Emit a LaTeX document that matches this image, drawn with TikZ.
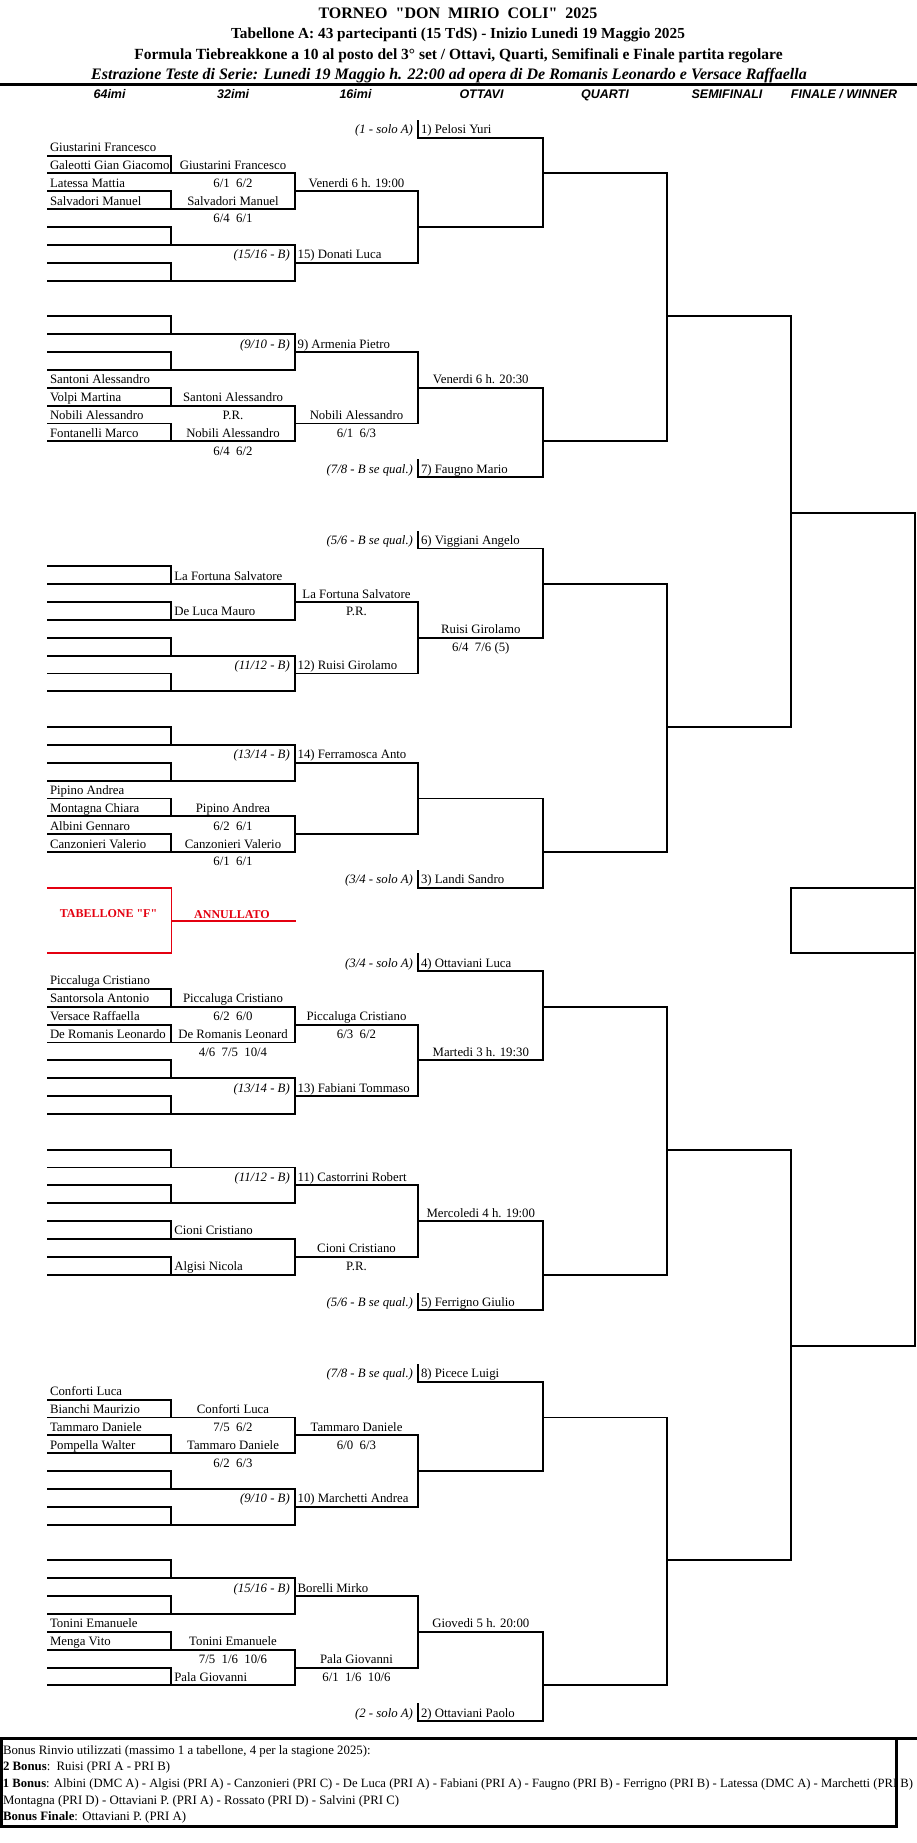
\documentclass[tikz,border=0pt]{standalone}
\usepackage{fontspec}
\setmainfont{Liberation Serif}[Ligatures=TeXOff]
\newfontfamily\hsans{Liberation Sans}
\definecolor{annred}{RGB}{228,0,16}
\pgfmathdeclarefunction{ya}{1}{\pgfmathparse{137.7+17.86*(#1)}}
\pgfmathdeclarefunction{yb}{1}{\pgfmathparse{971+17.86*(#1)}}
\newcounter{bkn}
\newcommand\bknew{\stepcounter{bkn}}
\tikzset{
  br/.style={line width=1.9pt, line cap=rect, line join=miter},
  rline/.style={line width=1.6pt, draw=annred, line cap=rect, line join=miter},
  hrule/.style={line width=2.7pt, line cap=rect, line join=miter},
  txt/.style={inner sep=0pt, outer sep=0pt, font=\fontsize{12.8}{14}\selectfont},
  itxt/.style={inner sep=0pt, outer sep=0pt, font=\fontsize{12.8}{14}\selectfont\itshape},
  hdr/.style={inner sep=0pt, outer sep=0pt, anchor=base, font=\fontsize{12.5}{14}\selectfont\hsans\bfseries\itshape},
  ttl/.style={inner sep=0pt, outer sep=0pt, anchor=base},
  bon/.style={inner sep=0pt, outer sep=0pt, anchor=base west, font=\fontsize{12.8}{14}\selectfont},
  redtxt/.style={inner sep=0pt, outer sep=0pt, anchor=base, text=annred, font=\fontsize{12}{14}\selectfont\bfseries},
}
% text helpers (fn, row, text)
\newcommand\bkA[3]{\bknew\node[txt,anchor=base west] (t\arabic{bkn}) at (50,{#1(#2)-4}) {#3};}
\newcommand\bkB[3]{\bknew\node[txt,anchor=base] (t\arabic{bkn}) at (233,{#1(#2)-4}) {#3};}
\newcommand\bkBl[3]{\bknew\node[txt,anchor=base west] (t\arabic{bkn}) at (174.3,{#1(#2)-4}) {#3};}
\newcommand\bkC[3]{\bknew\node[txt,anchor=base] (t\arabic{bkn}) at (356.5,{#1(#2)-4}) {#3};}
\newcommand\bkD[3]{\bknew\node[txt,anchor=base] (t\arabic{bkn}) at (480.8,{#1(#2)-4}) {#3};}
\newcommand\bkSc[4]{\bknew\node[itxt,anchor=base east] (t\arabic{bkn}) at (289.8,{#1(#2)-4}) {#3};
  \bknew\node[txt,anchor=base west] (t\arabic{bkn}) at (297.6,{#1(#2)-4}) {#4};}
\newcommand\bkSd[4]{\draw[br] (418.3,{#1(#2-1)+1}) -- (418.3,{#1(#2)}) -- (543.3,{#1(#2)});
  \bknew\node[itxt,anchor=base east] (t\arabic{bkn}) at (413,{#1(#2)-4}) {#3};
  \bknew\node[txt,anchor=base west] (t\arabic{bkn}) at (421,{#1(#2)-4}) {#4};}
% line groups
\newcommand\bkgrp[2]{%
  \foreach \i in {0,2,4,6}{%
    \draw[br] (48,{#1(#2+\i)}) -- (171.3,{#1(#2+\i)}) -- (171.3,{#1(#2+\i+1)});
    \draw[br] (48,{#1(#2+\i+1)}) -- (294.8,{#1(#2+\i+1)});
  }
  \draw[br] (294.8,{#1(#2+1)}) -- (294.8,{#1(#2+3)});
  \draw[br] (294.8,{#1(#2+5)}) -- (294.8,{#1(#2+7)});
  \draw[br] (294.8,{#1(#2+2)}) -- (418.3,{#1(#2+2)}) -- (418.3,{#1(#2+6)}) -- (294.8,{#1(#2+6)});
  \draw[br] (418.3,{#1(#2+4)}) -- (543.3,{#1(#2+4)});
}
\newcommand\bkoct[4]{\draw[br] (543.3,{#1(#2)}) -- (543.3,{#1(#3)}); \draw[br] (543.3,{#1(#4)}) -- (666.8,{#1(#4)});}
\newcommand\bkqf[4]{\draw[br] (666.8,{#1(#2)}) -- (666.8,{#1(#3)}); \draw[br] (666.8,{#1(#4)}) -- (791,{#1(#4)});}
\newcommand\bksf[4]{\draw[br] (791,{#1(#2)}) -- (791,{#1(#3)}); \draw[br] (791,{#1(#4)}) -- (915,{#1(#4)});}

\begin{document}
\begin{tikzpicture}[x=1pt,y=-1pt]
\useasboundingbox (0,0) rectangle (916,1843);
\fill[white] (0,0) rectangle (916,1843);
% titles
\node[ttl,font=\fontsize{16}{18}\selectfont\bfseries] (title) at (458,18.3) {TORNEO~~"DON~~MIRIO~~COLI"~~2025};
\node[ttl,font=\fontsize{15.3}{18}\selectfont\bfseries] (sub1) at (458,38.3) {Tabellone A: 43 partecipanti (15 TdS) - Inizio Lunedi 19 Maggio 2025};
\node[ttl,font=\fontsize{15.5}{18}\selectfont\bfseries] (sub2) at (458.5,60) {Formula Tiebreakkone a 10 al posto del 3° set / Ottavi, Quarti, Semifinali e Finale partita regolare};
\node[ttl,font=\fontsize{16}{18}\selectfont\bfseries\itshape] (sub3) at (449,80) {Estrazione Teste di Serie: Lunedi 19 Maggio h. 22:00 ad opera di De Romanis Leonardo e Versace Raffaella};
\draw[hrule] (0,84.8) -- (916,84.8);
% column headers
\node[hdr] (h1) at (109.6,99) {64imi};
\node[hdr] (h2) at (233.2,99) {32imi};
\node[hdr] (h3) at (355.5,99) {16imi};
\node[hdr] (h4) at (481.5,99) {OTTAVI};
\node[hdr] (h5) at (605,99) {QUARTI};
\node[hdr] (h6) at (727,99) {SEMIFINALI};
\node[hdr] (h7) at (844,99) {FINALE / WINNER};

% ===== Section A =====
% block 1
\bkSd{ya}{0}{(1 - solo A)}{1) Pelosi Yuri}
\bkgrp{ya}{1}
\bkoct{ya}{0}{5}{2}
\bkA{ya}{1}{Giustarini Francesco}
\bkA{ya}{2}{Galeotti Gian Giacomo}
\bkB{ya}{2}{Giustarini Francesco}
\bkA{ya}{3}{Latessa Mattia}
\bkB{ya}{3}{6/1~~6/2}
\bkC{ya}{3}{Venerdi 6 h. 19:00}
\bkA{ya}{4}{Salvadori Manuel}
\bkB{ya}{4}{Salvadori Manuel}
\bkB{ya}{5}{6/4~~6/1}
\bkSc{ya}{7}{(15/16 - B)}{15) Donati Luca}
% block 2
\bkgrp{ya}{10}
\bkSd{ya}{19}{(7/8 - B se qual.)}{7) Faugno Mario}
\bkoct{ya}{14}{19}{17}
\bkSc{ya}{12}{(9/10 - B)}{9) Armenia Pietro}
\bkA{ya}{14}{Santoni Alessandro}
\bkD{ya}{14}{Venerdi 6 h. 20:30}
\bkA{ya}{15}{Volpi Martina}
\bkB{ya}{15}{Santoni Alessandro}
\bkA{ya}{16}{Nobili Alessandro}
\bkB{ya}{16}{P.R.}
\bkC{ya}{16}{Nobili Alessandro}
\bkA{ya}{17}{Fontanelli Marco}
\bkB{ya}{17}{Nobili Alessandro}
\bkC{ya}{17}{6/1~~6/3}
\bkB{ya}{18}{6/4~~6/2}
% block 3
\bkSd{ya}{23}{(5/6 - B se qual.)}{6) Viggiani Angelo}
\bkgrp{ya}{24}
\bkoct{ya}{23}{28}{25}
\bkBl{ya}{25}{La Fortuna Salvatore}
\bkC{ya}{26}{La Fortuna Salvatore}
\bkBl{ya}{27}{De Luca Mauro}
\bkC{ya}{27}{P.R.}
\bkD{ya}{28}{Ruisi Girolamo}
\bkD{ya}{29}{6/4~~7/6 (5)}
\bkSc{ya}{30}{(11/12 - B)}{12) Ruisi Girolamo}
% block 4
\bkgrp{ya}{33}
\bkSd{ya}{42}{(3/4 - solo A)}{3) Landi Sandro}
\bkoct{ya}{37}{42}{40}
\bkSc{ya}{35}{(13/14 - B)}{14) Ferramosca Anto}
\bkA{ya}{37}{Pipino Andrea}
\bkA{ya}{38}{Montagna Chiara}
\bkB{ya}{38}{Pipino Andrea}
\bkA{ya}{39}{Albini Gennaro}
\bkB{ya}{39}{6/2~~6/1}
\bkA{ya}{40}{Canzonieri Valerio}
\bkB{ya}{40}{Canzonieri Valerio}
\bkB{ya}{41}{6/1~~6/1}
% quarti / semis A
\bkqf{ya}{2}{17}{10}
\bkqf{ya}{25}{40}{33}
\bksf{ya}{10}{33}{21}

% ===== red cancelled draw =====
\draw[rline] (48,{ya(42)}) -- (171.3,{ya(42)}) -- (171.3,{yb(-1)}) -- (48,{yb(-1)});
\draw[rline] (171.3,920.7) -- (294.8,920.7);
\node[redtxt] (tabf) at (108.5,917) {TABELLONE "F"};
\node[redtxt] (annul) at (232,918.5) {ANNULLATO};

% ===== final =====
\draw[br] (915,{ya(21)}) -- (915,{yb(21)});
\draw[br] (791,{ya(42)}) -- (915,{ya(42)});
\draw[br] (791,{ya(42)}) -- (791,{yb(-1)}) -- (915,{yb(-1)});

% ===== Section B =====
% block 5
\bkSd{yb}{0}{(3/4 - solo A)}{4) Ottaviani Luca}
\bkgrp{yb}{1}
\bkoct{yb}{0}{5}{2}
\bkA{yb}{1}{Piccaluga Cristiano}
\bkA{yb}{2}{Santorsola Antonio}
\bkB{yb}{2}{Piccaluga Cristiano}
\bkA{yb}{3}{Versace Raffaella}
\bkB{yb}{3}{6/2~~6/0}
\bkC{yb}{3}{Piccaluga Cristiano}
\bkA{yb}{4}{De Romanis Leonardo}
\bkB{yb}{4}{De Romanis Leonard}
\bkC{yb}{4}{6/3~~6/2}
\bkB{yb}{5}{4/6~~7/5~~10/4}
\bkD{yb}{5}{Martedi 3 h. 19:30}
\bkSc{yb}{7}{(13/14 - B)}{13) Fabiani Tommaso}
% block 6
\bkgrp{yb}{10}
\bkSd{yb}{19}{(5/6 - B se qual.)}{5) Ferrigno Giulio}
\bkoct{yb}{14}{19}{17}
\bkSc{yb}{12}{(11/12 - B)}{11) Castorrini Robert}
\bkD{yb}{14}{Mercoledi 4 h. 19:00}
\bkBl{yb}{15}{Cioni Cristiano}
\bkC{yb}{16}{Cioni Cristiano}
\bkBl{yb}{17}{Algisi Nicola}
\bkC{yb}{17}{P.R.}
% block 7
\bkSd{yb}{23}{(7/8 - B se qual.)}{8) Picece Luigi}
\bkgrp{yb}{24}
\bkoct{yb}{23}{28}{25}
\bkA{yb}{24}{Conforti Luca}
\bkA{yb}{25}{Bianchi Maurizio}
\bkB{yb}{25}{Conforti Luca}
\bkA{yb}{26}{Tammaro Daniele}
\bkB{yb}{26}{7/5~~6/2}
\bkC{yb}{26}{Tammaro Daniele}
\bkA{yb}{27}{Pompella Walter}
\bkB{yb}{27}{Tammaro Daniele}
\bkC{yb}{27}{6/0~~6/3}
\bkB{yb}{28}{6/2~~6/3}
\bkSc{yb}{30}{(9/10 - B)}{10) Marchetti Andrea}
% block 8
\bkgrp{yb}{33}
\bkSd{yb}{42}{(2 - solo A)}{2) Ottaviani Paolo}
\bkoct{yb}{37}{42}{40}
\bkSc{yb}{35}{(15/16 - B)}{Borelli Mirko}
\bkA{yb}{37}{Tonini Emanuele}
\bkD{yb}{37}{Giovedi 5 h. 20:00}
\bkA{yb}{38}{Menga Vito}
\bkB{yb}{38}{Tonini Emanuele}
\bkB{yb}{39}{7/5~~1/6~~10/6}
\bkC{yb}{39}{Pala Giovanni}
\bkBl{yb}{40}{Pala Giovanni}
\bkC{yb}{40}{6/1~~1/6~~10/6}
% quarti / semis B
\bkqf{yb}{2}{17}{10}
\bkqf{yb}{25}{40}{33}
\bksf{yb}{10}{33}{21}

% ===== bonus box =====
\draw[hrule] (0,1738.5) -- (916,1738.5);
\draw[hrule] (1.2,1738.5) -- (1.2,1826.7) -- (896.6,1826.7) -- (896.6,1738.5);
\node[bon] (b1) at (3,1754) {Bonus Rinvio utilizzati (massimo 1 a tabellone, 4 per la stagione 2025):};
\node[bon] (b2) at (3,1770.7) {\textbf{2 Bonus}:~~Ruisi (PRI A - PRI B)};
\node[bon] (b3) at (3,1787.7) {\resizebox{910pt}{!}{\textbf{1 Bonus}: Albini (DMC A) - Algisi (PRI A) - Canzonieri (PRI C) - De Luca (PRI A) - Fabiani (PRI A) - Faugno (PRI B) - Ferrigno (PRI B) - Latessa (DMC A) - Marchetti (PRI B)}};
\node[bon] (b4) at (3,1804.3) {Montagna (PRI D) - Ottaviani P. (PRI A) - Rossato (PRI D) - Salvini (PRI C)};
\node[bon] (b5) at (3,1820.7) {\textbf{Bonus Finale}: Ottaviani P. (PRI A)};
\end{tikzpicture}
\end{document}
